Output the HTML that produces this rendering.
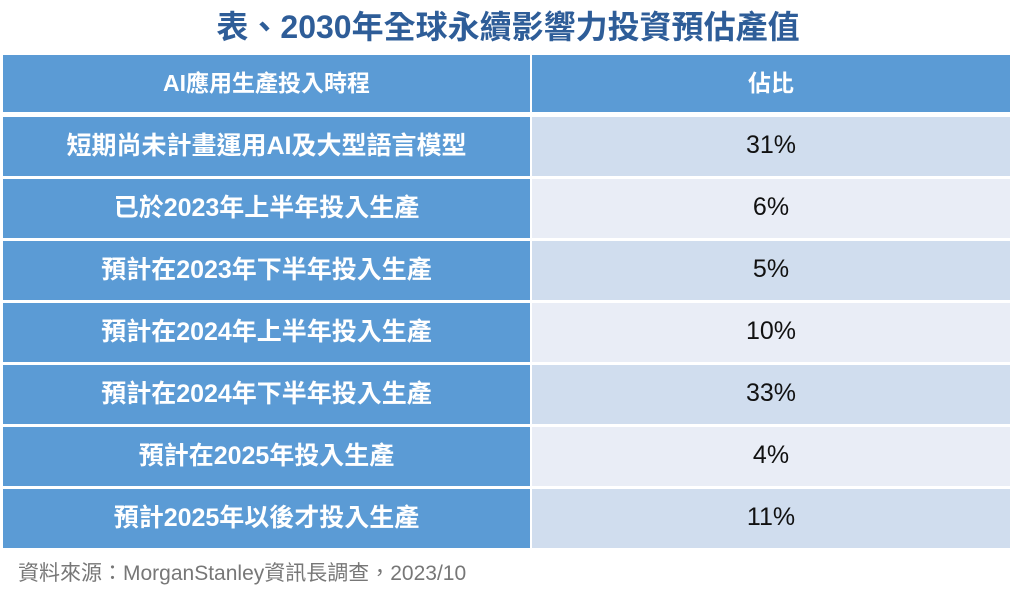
<!DOCTYPE html>
<html><head><meta charset="utf-8"><style>
body{margin:0;width:1016px;height:597px;background:#fff;position:relative;font-family:"Liberation Sans","Noto Sans CJK TC",sans-serif;overflow:hidden}
.t{position:absolute;left:0;width:1016px;top:6px;text-align:center;font-size:32px;font-weight:bold;color:#2e5d98;line-height:42px}
.c{position:absolute;display:flex;align-items:center;justify-content:center;font-size:25px;box-sizing:border-box}
.l{left:3px;width:527px;background:#5b9bd5;color:#fff;font-weight:bold;padding-bottom:5px}
.r{left:532px;width:478px;color:#111;font-size:25px;padding-bottom:3px}
.h{background:#5b9bd5;color:#fff;font-weight:bold;font-size:23px;padding-bottom:6px}
.a{background:#d0ddee}.b{background:#e9edf6}
.f{position:absolute;left:18px;top:557px;font-size:21px;color:#777}
</style></head><body>
<div class="t">表、2030年全球永續影響力投資預估產值</div>
<div class="c l" style="top:55px;height:57px;font-size:23px;padding-bottom:6px">AI應用生產投入時程</div>
<div class="c r h" style="top:55px;height:57px">佔比</div>
<div class="c l" style="top:117px;height:59px">短期尚未計畫運用AI及大型語言模型</div><div class="c r a" style="top:117px;height:59px">31%</div>
<div class="c l" style="top:179px;height:59px">已於2023年上半年投入生產</div><div class="c r b" style="top:179px;height:59px">6%</div>
<div class="c l" style="top:241px;height:59px">預計在2023年下半年投入生產</div><div class="c r a" style="top:241px;height:59px">5%</div>
<div class="c l" style="top:303px;height:59px">預計在2024年上半年投入生產</div><div class="c r b" style="top:303px;height:59px">10%</div>
<div class="c l" style="top:365px;height:59px">預計在2024年下半年投入生產</div><div class="c r a" style="top:365px;height:59px">33%</div>
<div class="c l" style="top:427px;height:59px">預計在2025年投入生產</div><div class="c r b" style="top:427px;height:59px">4%</div>
<div class="c l" style="top:489px;height:59px">預計2025年以後才投入生產</div><div class="c r a" style="top:489px;height:59px">11%</div>
<div class="f">資料來源：MorganStanley資訊長調查，2023/10</div>
</body></html>
